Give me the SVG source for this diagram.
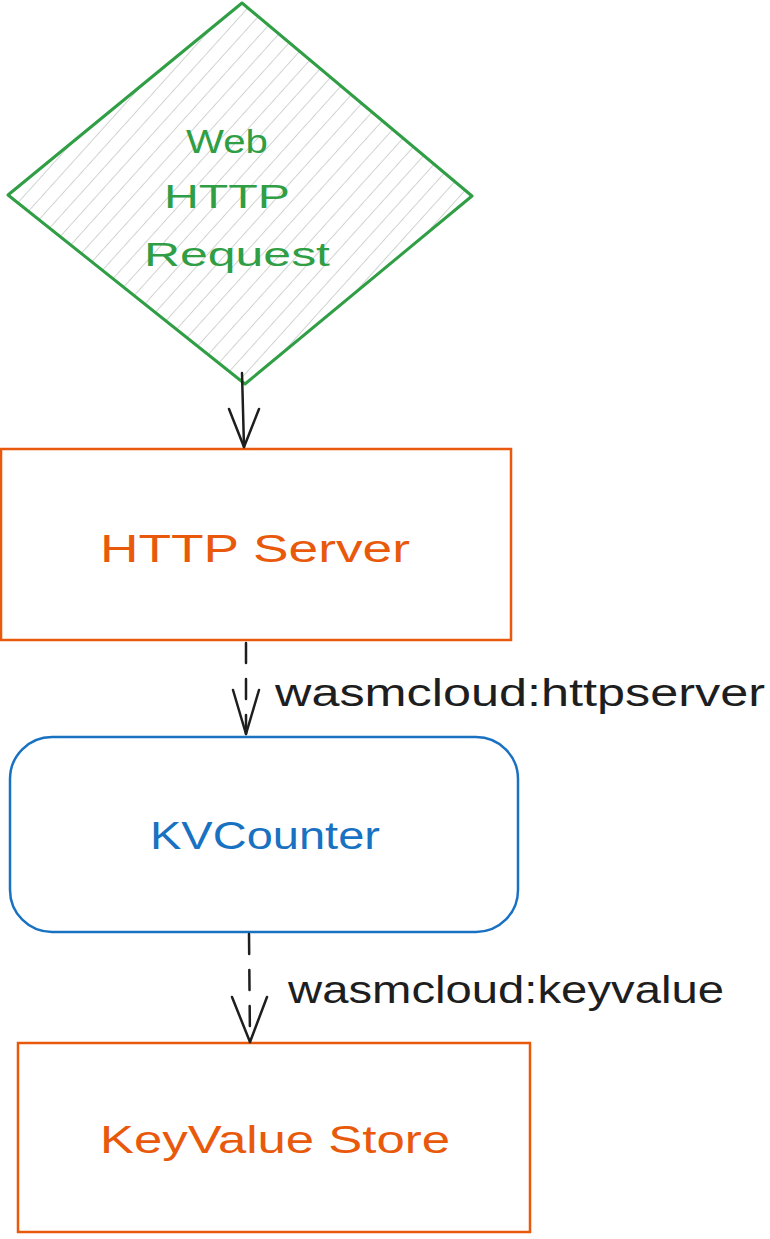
<svg xmlns="http://www.w3.org/2000/svg" width="770" height="1239" viewBox="0 0 770 1239">
<style>
.lbl{font-family:"Liberation Sans",Arial,sans-serif;font-size:38px}
.small{font-size:33px}
.green{fill:#2f9e44}
.orange{fill:#e8590c}
.blue{fill:#1971c2}
.black{fill:#1e1e1e}
.edge{stroke:#1e1e1e;stroke-width:2.5;fill:none;stroke-linecap:round;stroke-linejoin:round}
.dash{stroke-dasharray:20 16}
</style>
<defs>
<pattern id="hatch" patternUnits="userSpaceOnUse" width="13.5" height="12" patternTransform="rotate(42)">
<line x1="0" y1="0" x2="0" y2="12" stroke="#b8bdb9" stroke-width="1.3"/>
</pattern>
</defs>
<rect width="770" height="1239" fill="#ffffff"/>
<g id="node-web-request">
<polygon points="242,3 472,196 245,384 8,195" fill="url(#hatch)" stroke="#2f9e44" stroke-width="3" stroke-linejoin="round"/>
<text class="lbl small green" x="227" y="153" text-anchor="middle" textLength="82" lengthAdjust="spacingAndGlyphs">Web</text>
<text class="lbl small green" x="227" y="208" text-anchor="middle" textLength="126" lengthAdjust="spacingAndGlyphs">HTTP</text>
<text class="lbl small green" x="237" y="266" text-anchor="middle" textLength="186" lengthAdjust="spacingAndGlyphs">Request</text>
</g>
<g id="node-http-server">
<rect x="1" y="449" width="510" height="191" fill="none" stroke="#e8590c" stroke-width="2.5"/>
<text class="lbl orange" x="255" y="562" text-anchor="middle" textLength="310" lengthAdjust="spacingAndGlyphs">HTTP Server</text>
</g>
<g id="node-kvcounter">
<rect x="10" y="737" width="508" height="195" rx="42" ry="42" fill="none" stroke="#1971c2" stroke-width="2.5"/>
<text class="lbl blue" x="265" y="849" text-anchor="middle" textLength="230" lengthAdjust="spacingAndGlyphs">KVCounter</text>
</g>
<g id="node-keyvalue-store">
<rect x="18" y="1043" width="512" height="189" fill="none" stroke="#e8590c" stroke-width="2.5"/>
<text class="lbl orange" x="275" y="1153" text-anchor="middle" textLength="350" lengthAdjust="spacingAndGlyphs">KeyValue Store</text>
</g>
<g id="connectors">
<path class="edge" d="M242,373 L244,447"/>
<path class="edge" d="M229,409 L244,447 L259,409"/>
<path class="edge dash" d="M246,643 L246,734"/>
<path class="edge" d="M233,690 L246,734 L259,690"/>
<text class="lbl black" x="275" y="706" textLength="490" lengthAdjust="spacingAndGlyphs">wasmcloud:httpserver</text>
<path class="edge dash" d="M249,934 L250,1042"/>
<path class="edge" d="M232,997 L250,1042 L267,997"/>
<text class="lbl black" x="288" y="1003" textLength="436" lengthAdjust="spacingAndGlyphs">wasmcloud:keyvalue</text>
</g>
</svg>
